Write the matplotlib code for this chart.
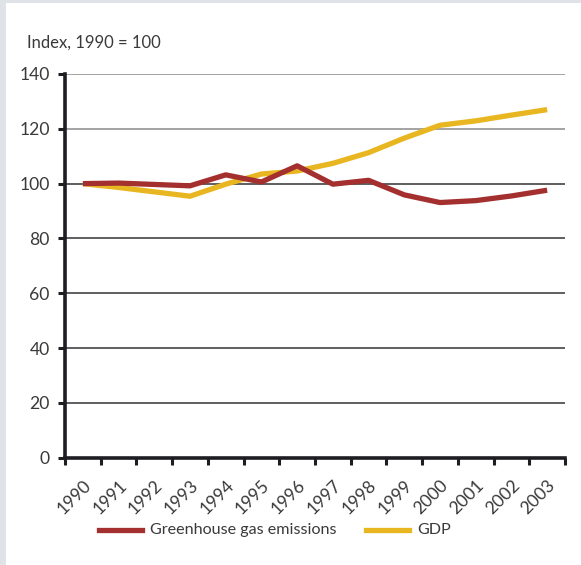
import matplotlib
matplotlib.use("Agg")
import matplotlib.pyplot as plt
from matplotlib.patches import Rectangle
from matplotlib.lines import Line2D
import numpy as np

years = ["1990", "1991", "1992", "1993", "1994", "1995", "1996", "1997",
         "1998", "1999", "2000", "2001", "2002", "2003"]
emissions = [100.0, 100.2, 99.7, 99.2, 103.2, 100.6, 106.5, 99.8,
             101.2, 95.9, 93.1, 93.8, 95.5, 97.6]
gdp = [100.0, 98.6, 97.0, 95.4, 99.8, 103.5, 104.6, 107.4,
       111.3, 116.6, 121.3, 122.9, 125.0, 127.0]
y_ticks = [0, 20, 40, 60, 80, 100, 120, 140]

RED = "#a3302e"
YEL = "#e8b620"
TXT = "#3a3a3a"
FONT = ["Lato", "DejaVu Sans"]
plt.rcParams["font.family"] = FONT
FS = 11.6
FT = 12.6

W, H = 581, 565
fig = plt.figure(figsize=(W / 100, H / 100), dpi=100)
fig.patch.set_facecolor("#dfe3e7")
fig.add_artist(Rectangle((6 / W, 0), 1, 1 - 3 / H, transform=fig.transFigure,
                         facecolor="white", edgecolor="none", zorder=0))

ax = fig.add_axes([65 / W, 1 - 457.7 / H, 500 / W, (457.7 - 74) / H])
ax.set_facecolor("none")
x = np.arange(len(years))

for v in y_ticks[1:]:
    c = "#8a8a8a" if v >= 120 else "#333333"
    ax.axhline(v, color=c, lw=1.1, zorder=1)

ax.plot(x, gdp, color=YEL, lw=3.8, solid_capstyle="butt", zorder=3)
ax.plot(x, emissions, color=RED, lw=3.8, solid_capstyle="butt", zorder=4)

ax.set_xlim(-0.5, len(years) - 0.5)
ax.set_ylim(0, 140)
ax.set_yticks(y_ticks)
ax.set_yticklabels([str(v) for v in y_ticks], fontsize=FT, color=TXT)
ax.tick_params(axis="y", length=5, width=2.2, color="#1e1e22", pad=6)

ax.set_xticks(x)
ax.set_xticklabels(years, rotation=45, ha="right", rotation_mode="anchor",
                   fontsize=FT, color=TXT)
ax.tick_params(axis="x", which="major", length=0, pad=14)
ax.set_xticks(np.arange(len(years) + 1) - 0.5, minor=True)
ax.tick_params(axis="x", which="minor", length=5, width=2.2, color="#1e1e22")

for s in ["top", "right"]:
    ax.spines[s].set_visible(False)
for s in ["left", "bottom"]:
    ax.spines[s].set_linewidth(2.6)
    ax.spines[s].set_color("#1e1e22")
    ax.spines[s].set_zorder(5)

fig.text(27 / W, 1 - 43 / H, "Index, 1990 = 100", fontsize=12,
         color=TXT, va="center", ha="left")

# legend
ly = 1 - 530 / H
fig.add_artist(Line2D([99 / W, 142 / W], [ly, ly], color=RED, lw=3.8,
                      transform=fig.transFigure))
fig.text(150 / W, ly, "Greenhouse gas emissions", fontsize=FS,
         color=TXT, va="center", ha="left")
fig.add_artist(Line2D([366 / W, 409 / W], [ly, ly], color=YEL, lw=3.8,
                      transform=fig.transFigure))
fig.text(417 / W, ly, "GDP", fontsize=FS, color=TXT,
         va="center", ha="left")

fig.savefig("out.png", dpi=100)
